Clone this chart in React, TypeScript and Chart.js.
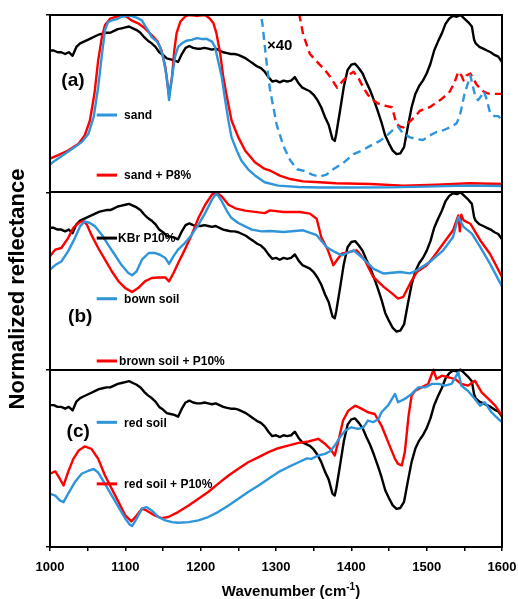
import React, { useEffect, useRef } from 'react';
import { Chart, registerables } from 'chart.js';
Chart.register(...registerables);

const FONT = '"Liberation Sans", Arial, Helvetica, sans-serif';
const BLUE = '#2E95DB';
const RED = '#FF0000';
const BLACK = '#000000';

// KBr P10% reference (same curve shown in all three panels)
const kbrWave = [1000,1005,1010,1015,1020,1025,1030,1035,1040,1045,1050,1055,1060,1065,1070,1075,1080,1085,1090,1095,1100,1105,1110,1115,1120,1125,1130,1135,1140,1145,1150,1155,1160,1165,1170,1175,1180,1185,1190,1195,1200,1205,1210,1215,1220,1225,1230,1235,1240,1245,1250,1255,1260,1265,1270,1275,1280,1285,1290,1295,1300,1305,1310,1315,1320,1325,1330,1335,1340,1345,1350,1355,1360,1365,1370,1375,1378,1380,1385,1390,1395,1400,1405,1410,1415,1420,1425,1430,1435,1440,1445,1450,1455,1460,1465,1470,1475,1480,1485,1490,1495,1500,1505,1510,1515,1520,1525,1530,1535,1540,1545,1550,1555,1560,1563,1565,1570,1575,1580,1585,1590,1595,1600];
const kbrVal = [0.80,0.80,0.79,0.79,0.78,0.79,0.77,0.82,0.84,0.85,0.86,0.87,0.88,0.89,0.895,0.90,0.90,0.91,0.92,0.925,0.93,0.935,0.925,0.915,0.90,0.875,0.855,0.84,0.82,0.79,0.775,0.755,0.75,0.745,0.735,0.78,0.815,0.825,0.815,0.81,0.81,0.815,0.81,0.805,0.81,0.80,0.79,0.785,0.78,0.78,0.775,0.765,0.755,0.74,0.725,0.71,0.70,0.68,0.65,0.625,0.63,0.62,0.63,0.625,0.63,0.65,0.615,0.59,0.58,0.57,0.55,0.52,0.48,0.425,0.38,0.30,0.29,0.33,0.46,0.595,0.69,0.72,0.725,0.70,0.67,0.62,0.575,0.52,0.46,0.395,0.32,0.275,0.235,0.215,0.22,0.255,0.37,0.48,0.555,0.60,0.63,0.67,0.725,0.80,0.85,0.895,0.95,0.98,0.995,0.99,1.0,0.98,0.96,0.935,0.86,0.84,0.82,0.81,0.80,0.79,0.775,0.765,0.735];

// Panel (a): sand
const sandWave = [1000,1007,1020,1033,1042,1051,1058,1064,1069,1073,1077,1082,1088,1095,1102,1108,1115,1122,1126,1130,1135,1142,1146,1150,1155,1158,1162,1166,1170,1175,1181,1188,1195,1201,1208,1215,1219,1223,1228,1232,1237,1241,1248,1254,1263,1272,1285,1303,1330,1360,1400,1450,1500,1550,1600];
const sandVal = [0.157,0.18,0.217,0.255,0.283,0.33,0.425,0.595,0.78,0.915,0.96,0.97,0.975,0.99,0.995,0.995,0.985,0.97,0.94,0.915,0.875,0.85,0.82,0.765,0.65,0.52,0.65,0.765,0.82,0.84,0.855,0.86,0.87,0.865,0.865,0.85,0.82,0.745,0.65,0.535,0.40,0.31,0.235,0.18,0.13,0.095,0.057,0.038,0.03,0.027,0.027,0.028,0.032,0.038,0.036];
const sandP8Wave = [1000,1011,1024,1038,1046,1053,1059,1064,1069,1073,1080,1088,1095,1102,1108,1117,1126,1135,1143,1148,1153,1156,1158,1162,1165,1168,1173,1179,1184,1195,1206,1212,1217,1221,1226,1230,1235,1241,1250,1259,1272,1285,1292,1305,1319,1336,1358,1380,1425,1469,1513,1557,1600];
const sandP8Val = [0.19,0.21,0.236,0.274,0.32,0.405,0.557,0.745,0.877,0.943,0.98,0.99,1.0,0.99,0.97,0.953,0.925,0.887,0.85,0.80,0.71,0.61,0.547,0.65,0.80,0.896,0.962,0.99,1.0,0.995,1.0,0.98,0.953,0.896,0.78,0.65,0.535,0.405,0.31,0.236,0.17,0.132,0.123,0.094,0.075,0.062,0.057,0.051,0.047,0.038,0.043,0.051,0.047];
// ×40 magnified traces
const sandX40Wave = [1278,1282,1287,1292,1301,1310,1319,1328,1338,1348,1358,1367,1376,1389,1403,1416,1425,1438,1447,1456,1462,1469,1478,1487,1495,1504,1513,1522,1531,1540,1545,1550,1558,1564,1568,1572,1576,1580,1584,1590,1595,1600];
const sandX40Val = [1.05,0.95,0.75,0.58,0.38,0.26,0.18,0.13,0.12,0.10,0.088,0.10,0.13,0.165,0.215,0.24,0.262,0.29,0.32,0.355,0.37,0.33,0.31,0.30,0.295,0.32,0.34,0.35,0.366,0.39,0.45,0.55,0.66,0.55,0.52,0.54,0.57,0.52,0.45,0.43,0.43,0.41];
const sandP8X40Wave = [1327,1331,1336,1345,1358,1365,1372,1381,1389,1396,1403,1410,1416,1422,1429,1436,1443,1454,1460,1465,1469,1474,1478,1485,1491,1498,1504,1511,1518,1525,1531,1537,1542,1546,1549,1553,1558,1562,1566,1570,1575,1580,1584,1590,1600];
const sandP8X40Val = [1.08,1.0,0.89,0.78,0.72,0.69,0.65,0.59,0.63,0.66,0.68,0.64,0.59,0.55,0.52,0.50,0.49,0.48,0.385,0.37,0.366,0.39,0.40,0.43,0.46,0.47,0.48,0.50,0.52,0.545,0.57,0.62,0.68,0.66,0.63,0.66,0.67,0.64,0.61,0.59,0.57,0.56,0.555,0.555,0.555];

// Panel (b): brown soil
const brownWave = [1000,1007,1015,1024,1033,1040,1046,1053,1060,1069,1077,1086,1095,1104,1109,1115,1122,1131,1139,1146,1153,1158,1164,1170,1179,1188,1197,1206,1215,1221,1228,1235,1241,1250,1259,1268,1281,1292,1310,1336,1354,1367,1378,1387,1403,1416,1429,1443,1465,1478,1487,1504,1522,1535,1542,1549,1560,1571,1584,1600];
const brownVal = [0.564,0.59,0.61,0.667,0.742,0.808,0.836,0.827,0.808,0.76,0.705,0.648,0.59,0.545,0.532,0.555,0.62,0.658,0.658,0.648,0.63,0.596,0.64,0.677,0.714,0.76,0.818,0.883,0.959,0.996,0.95,0.893,0.855,0.827,0.808,0.79,0.78,0.782,0.776,0.786,0.758,0.692,0.664,0.645,0.673,0.626,0.57,0.542,0.551,0.543,0.56,0.607,0.673,0.748,0.86,0.805,0.767,0.692,0.598,0.47];
const brownP10Wave = [1000,1007,1015,1024,1031,1038,1044,1049,1055,1064,1073,1082,1091,1100,1109,1117,1126,1135,1144,1153,1158,1164,1170,1179,1188,1197,1206,1215,1221,1228,1237,1246,1259,1272,1285,1292,1310,1332,1345,1354,1360,1369,1376,1387,1398,1407,1418,1429,1443,1454,1462,1469,1478,1487,1500,1509,1522,1535,1542,1544,1546,1549,1558,1571,1584,1600];
const brownP10Val = [0.64,0.677,0.686,0.742,0.80,0.827,0.84,0.818,0.76,0.686,0.62,0.555,0.498,0.46,0.438,0.46,0.498,0.517,0.52,0.52,0.498,0.545,0.60,0.677,0.76,0.855,0.93,0.987,1.0,0.977,0.93,0.91,0.897,0.89,0.883,0.898,0.889,0.889,0.88,0.851,0.748,0.673,0.589,0.654,0.664,0.673,0.617,0.523,0.467,0.43,0.401,0.411,0.486,0.551,0.589,0.636,0.711,0.786,0.87,0.78,0.874,0.842,0.823,0.73,0.654,0.523];

// Panel (c): red soil
const redWave = [1000,1007,1013,1018,1024,1033,1042,1051,1058,1064,1073,1082,1091,1100,1106,1109,1115,1122,1128,1135,1144,1153,1162,1170,1184,1197,1210,1223,1237,1250,1263,1277,1290,1303,1316,1330,1341,1347,1356,1365,1372,1378,1385,1392,1400,1409,1416,1422,1429,1436,1440,1449,1458,1462,1471,1480,1489,1498,1507,1516,1524,1533,1542,1546,1555,1564,1571,1577,1586,1595,1600];
const redVal = [0.30,0.29,0.263,0.253,0.30,0.366,0.413,0.43,0.44,0.42,0.356,0.29,0.225,0.16,0.126,0.118,0.16,0.216,0.225,0.206,0.169,0.15,0.14,0.137,0.14,0.15,0.169,0.197,0.234,0.272,0.31,0.347,0.385,0.422,0.45,0.478,0.50,0.497,0.516,0.525,0.54,0.572,0.62,0.657,0.675,0.666,0.675,0.713,0.704,0.722,0.76,0.80,0.863,0.816,0.835,0.863,0.90,0.90,0.92,0.92,0.91,0.92,0.985,0.91,0.88,0.835,0.797,0.816,0.76,0.722,0.704];
const redP10Wave = [1000,1007,1013,1018,1024,1031,1038,1046,1055,1064,1073,1082,1091,1100,1108,1115,1122,1128,1139,1148,1157,1170,1184,1197,1210,1223,1237,1250,1263,1277,1290,1303,1316,1330,1343,1356,1365,1372,1378,1383,1389,1396,1405,1414,1422,1431,1440,1449,1458,1462,1467,1471,1476,1480,1485,1493,1502,1509,1513,1520,1529,1538,1546,1555,1564,1573,1582,1591,1600];
const redP10Val = [0.413,0.426,0.385,0.347,0.422,0.497,0.544,0.567,0.553,0.497,0.403,0.328,0.253,0.178,0.144,0.178,0.216,0.206,0.178,0.163,0.169,0.197,0.234,0.272,0.31,0.356,0.403,0.441,0.478,0.507,0.535,0.557,0.572,0.587,0.595,0.61,0.582,0.553,0.516,0.60,0.713,0.769,0.797,0.779,0.76,0.75,0.685,0.59,0.497,0.469,0.46,0.535,0.741,0.854,0.882,0.90,0.919,1.0,0.947,0.966,0.957,0.947,0.919,0.91,0.938,0.872,0.835,0.797,0.741];

const xTickValues = [1000, 1100, 1200, 1300, 1400, 1500, 1600];

// panel offsets: (a) top = 2, (b) middle = 1, (c) bottom = 0
const PANEL_A = 2;
const PANEL_B = 1;
const PANEL_C = 0;

function pts(w: number[], v: number[], off: number) {
  return w.map((x, i) => ({ x, y: v[i] + off }));
}

function line(data: any, color: string, dash: number[] = []) {
  return {
    data,
    borderColor: color,
    backgroundColor: color,
    borderWidth: 2.4,
    borderDash: dash,
    pointRadius: 0,
    tension: 0,
    fill: false,
    borderJoinStyle: 'round',
  };
}

const legendItems = [
  { label: 'sand', color: BLUE, panel: PANEL_A, y: 0.436, textGap: 7 },
  { label: 'sand + P8%', color: RED, panel: PANEL_A, y: 0.097, textGap: 7 },
  { label: 'KBr P10%', color: BLACK, panel: PANEL_B, y: 0.742, textGap: 1 },
  { label: 'bown soil', color: BLUE, panel: PANEL_B, y: 0.40, textGap: 7 },
  { label: 'brown soil + P10%', color: RED, panel: PANEL_B, y: 0.049, textGap: 2 },
  { label: 'red soil', color: BLUE, panel: PANEL_C, y: 0.703, textGap: 7 },
  { label: 'red soil + P10%', color: RED, panel: PANEL_C, y: 0.356, textGap: 7 },
];
const panelLabels = [
  { label: '(a)', panel: PANEL_A, y: 0.63, x: 1015 },
  { label: '(b)', panel: PANEL_B, y: 0.30, x: 1024 },
  { label: '(c)', panel: PANEL_C, y: 0.647, x: 1022 },
];

const decorPlugin = {
  id: 'decor',
  afterDatasetsDraw(chart: any) {
    const { ctx, chartArea, scales } = chart;
    const xs = scales.x;
    const ys = scales.y;
    ctx.save();
    // frame and dividers
    ctx.strokeStyle = BLACK;
    ctx.lineWidth = 2;
    ctx.strokeRect(chartArea.left, chartArea.top, chartArea.right - chartArea.left, chartArea.bottom - chartArea.top);
    [1, 2].forEach((v) => {
      const y = Math.round(ys.getPixelForValue(v));
      ctx.beginPath();
      ctx.moveTo(chartArea.left, y);
      ctx.lineTo(chartArea.right, y);
      ctx.stroke();
    });
    // legends
    ctx.font = `bold 12px ${FONT}`;
    ctx.textBaseline = 'middle';
    ctx.textAlign = 'left';
    legendItems.forEach((it) => {
      const y = ys.getPixelForValue(it.panel + it.y);
      const x1 = xs.getPixelForValue(1062);
      const x2 = xs.getPixelForValue(1089);
      ctx.strokeStyle = it.color;
      ctx.lineWidth = 3;
      ctx.beginPath();
      ctx.moveTo(x1, y);
      ctx.lineTo(x2, y);
      ctx.stroke();
      ctx.fillStyle = BLACK;
      ctx.fillText(it.label, x2 + it.textGap, y + 1);
    });
    ctx.font = `bold 19px ${FONT}`;
    panelLabels.forEach((p) => {
      ctx.fillText(p.label, xs.getPixelForValue(p.x), ys.getPixelForValue(p.panel + p.y));
    });
    ctx.font = `bold 15px ${FONT}`;
    ctx.fillText('\u00d740', xs.getPixelForValue(1288), ys.getPixelForValue(PANEL_A + 0.828));
    // y title
    ctx.save();
    ctx.translate(18, 289);
    ctx.rotate(-Math.PI / 2);
    ctx.textAlign = 'center';
    ctx.font = `bold 22px ${FONT}`;
    ctx.fillText('Normalized reflectance', 0, 0);
    ctx.restore();
    // x title
    const main = 'Wavenumber (cm';
    const sup = '-1';
    const close = ')';
    ctx.font = `bold 15px ${FONT}`;
    const wMain = ctx.measureText(main).width;
    const wClose = ctx.measureText(close).width;
    ctx.font = `bold 10px ${FONT}`;
    const wSup = ctx.measureText(sup).width;
    const total = wMain + wSup + wClose;
    const cx = (chartArea.left + chartArea.right) / 2 + 15;
    const ty = 592;
    let x = cx - total / 2;
    ctx.textAlign = 'left';
    ctx.font = `bold 15px ${FONT}`;
    ctx.fillText(main, x, ty);
    x += wMain;
    ctx.font = `bold 10px ${FONT}`;
    ctx.fillText(sup, x, ty - 5);
    x += wSup;
    ctx.font = `bold 15px ${FONT}`;
    ctx.fillText(close, x, ty);
    ctx.restore();
  },
};

export default function App() {
  const ref = useRef<HTMLCanvasElement | null>(null);
  useEffect(() => {
    if (!ref.current) return;
    const chart = new Chart(ref.current, {
      type: 'line',
      data: {
        datasets: [
          line(pts(sandWave, sandVal, PANEL_A), BLUE),
          line(pts(sandP8Wave, sandP8Val, PANEL_A), RED),
          line(pts(sandX40Wave, sandX40Val, PANEL_A), BLUE, [8, 5]),
          line(pts(sandP8X40Wave, sandP8X40Val, PANEL_A), RED, [8, 5]),
          line(pts(kbrWave, kbrVal, PANEL_A), BLACK),
          line(pts(brownWave, brownVal, PANEL_B), BLUE),
          line(pts(brownP10Wave, brownP10Val, PANEL_B), RED),
          line(pts(kbrWave, kbrVal, PANEL_B), BLACK),
          line(pts(redWave, redVal, PANEL_C), BLUE),
          line(pts(redP10Wave, redP10Val, PANEL_C), RED),
          line(pts(kbrWave, kbrVal, PANEL_C), BLACK),
        ] as any,
      },
      options: {
        animation: false,
        responsive: false,
        devicePixelRatio: 1,
        layout: { padding: { top: 15, right: 16, bottom: 0, left: 0 } },
        plugins: { legend: { display: false }, tooltip: { enabled: false } },
        scales: {
          x: {
            type: 'linear',
            min: 1000,
            max: 1600,
            afterFit: (s: any) => { s.height = 52; s.paddingLeft = 0; s.paddingRight = 0; },
            afterBuildTicks: (s: any) => {
              const t: any[] = [];
              for (let v = 1000; v <= 1600; v += 50) t.push({ value: v });
              s.ticks = t;
            },
            ticks: {
              autoSkip: false,
              maxRotation: 0,
              padding: 9,
              color: BLACK,
              font: { family: FONT, size: 13, weight: 'bold' },
              callback: (v: any) => (xTickValues.includes(Number(v)) ? String(v) : ''),
            },
            grid: { drawOnChartArea: false, drawTicks: true, tickLength: 4, color: BLACK, lineWidth: 1.5 },
            border: { display: false },
          },
          y: {
            type: 'linear',
            min: 0,
            max: 3,
            afterFit: (s: any) => { s.width = 50; s.paddingTop = 0; s.paddingBottom = 0; },
            ticks: { stepSize: 1, display: false },
            grid: { drawOnChartArea: false, drawTicks: true, tickLength: 4, color: BLACK, lineWidth: 1.5 },
            border: { display: false },
          },
        },
      } as any,
      plugins: [decorPlugin],
    });
    return () => chart.destroy();
  }, []);
  return (
    <div style={{ position: 'absolute', left: 0, top: 0, width: 518, height: 599, background: '#fff' }}>
      <canvas ref={ref} width={518} height={599} />
    </div>
  );
}
